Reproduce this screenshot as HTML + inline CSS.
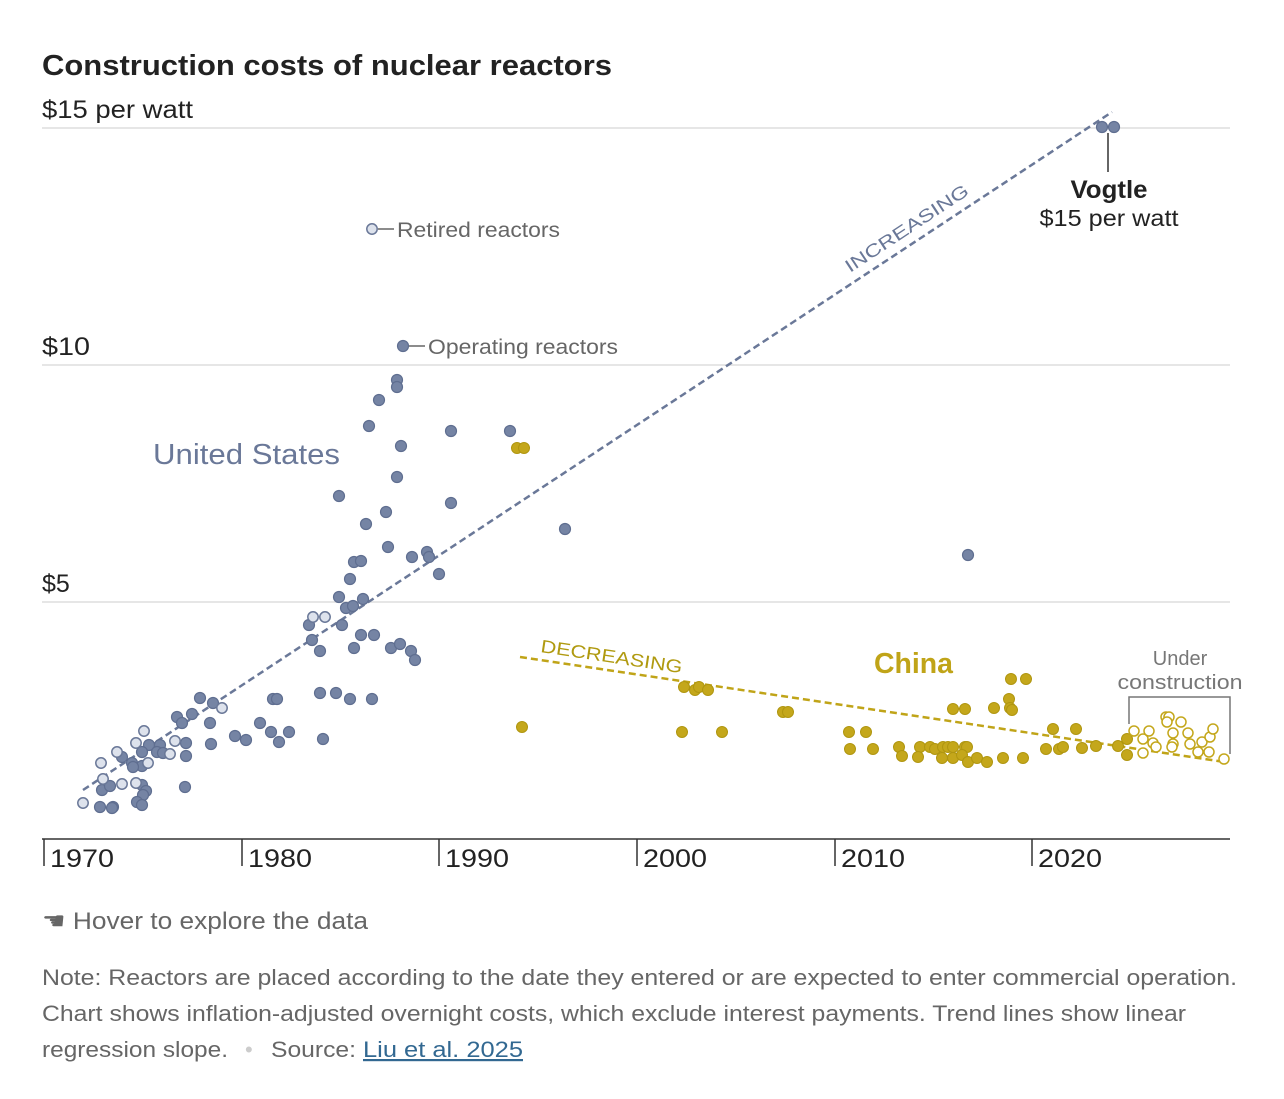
<!DOCTYPE html><html><head><style>body{margin:0;background:#fff;width:1284px;height:1094px;overflow:hidden;font-family:"Liberation Sans",sans-serif}</style></head><body>
<svg width="1284" height="1094" xmlns="http://www.w3.org/2000/svg" font-family="Liberation Sans, sans-serif">
<text x="42" y="75" font-size="29" font-weight="bold" fill="#222" textLength="570" lengthAdjust="spacingAndGlyphs">Construction costs of nuclear reactors</text>
<g stroke="#ddd" stroke-width="1.5"><line x1="42" y1="128" x2="1230" y2="128"/><line x1="42" y1="365" x2="1230" y2="365"/><line x1="42" y1="602" x2="1230" y2="602"/></g>
<line x1="42" y1="839" x2="1230" y2="839" stroke="#333" stroke-width="1.5"/>
<g font-size="25" fill="#222"><text x="42" y="118" textLength="151" lengthAdjust="spacingAndGlyphs">$15 per watt</text><text x="42" y="355" textLength="48" lengthAdjust="spacingAndGlyphs">$10</text><text x="42" y="592">$5</text></g>
<g stroke="#333" stroke-width="1.5"><line x1="44" y1="839" x2="44" y2="866"/><line x1="242" y1="839" x2="242" y2="866"/><line x1="439" y1="839" x2="439" y2="866"/><line x1="637" y1="839" x2="637" y2="866"/><line x1="835" y1="839" x2="835" y2="866"/><line x1="1032" y1="839" x2="1032" y2="866"/></g>
<g font-size="25" fill="#222"><text x="50" y="867" textLength="64" lengthAdjust="spacingAndGlyphs">1970</text><text x="248" y="867" textLength="64" lengthAdjust="spacingAndGlyphs">1980</text><text x="445" y="867" textLength="64" lengthAdjust="spacingAndGlyphs">1990</text><text x="643" y="867" textLength="64" lengthAdjust="spacingAndGlyphs">2000</text><text x="841" y="867" textLength="64" lengthAdjust="spacingAndGlyphs">2010</text><text x="1038" y="867" textLength="64" lengthAdjust="spacingAndGlyphs">2020</text></g>
<line x1="83" y1="790" x2="1112" y2="112" stroke="#6a7898" stroke-width="2.5" stroke-dasharray="7,4"/>
<line x1="520" y1="657" x2="1225" y2="762" stroke="#c0a418" stroke-width="2.5" stroke-dasharray="7,4"/>
<text transform="translate(850,273) rotate(-33.4)" font-size="18" fill="#6a7898" textLength="144" lengthAdjust="spacingAndGlyphs">INCREASING</text>
<text transform="translate(540,652) rotate(8.5)" font-size="18" fill="#b09a10" textLength="143" lengthAdjust="spacingAndGlyphs">DECREASING</text>
<g fill="#7584a4" stroke="#5f6e90" stroke-width="1.2">
<circle cx="1102" cy="127" r="5.5"/><circle cx="1114" cy="127" r="5.5"/>
<circle cx="397" cy="380" r="5.5"/><circle cx="397" cy="387" r="5.5"/><circle cx="379" cy="400" r="5.5"/><circle cx="369" cy="426" r="5.5"/><circle cx="451" cy="431" r="5.5"/><circle cx="510" cy="431" r="5.5"/><circle cx="401" cy="446" r="5.5"/><circle cx="397" cy="477" r="5.5"/><circle cx="339" cy="496" r="5.5"/><circle cx="451" cy="503" r="5.5"/><circle cx="386" cy="512" r="5.5"/><circle cx="366" cy="524" r="5.5"/><circle cx="565" cy="529" r="5.5"/><circle cx="388" cy="547" r="5.5"/><circle cx="412" cy="557" r="5.5"/><circle cx="427" cy="552" r="5.5"/><circle cx="429" cy="557" r="5.5"/><circle cx="354" cy="562" r="5.5"/><circle cx="361" cy="561" r="5.5"/><circle cx="350" cy="579" r="5.5"/><circle cx="439" cy="574" r="5.5"/><circle cx="968" cy="555" r="5.5"/>
<circle cx="339" cy="597" r="5.5"/><circle cx="363" cy="599" r="5.5"/><circle cx="346" cy="608" r="5.5"/><circle cx="353" cy="606" r="5.5"/><circle cx="309" cy="625" r="5.5"/><circle cx="342" cy="625" r="5.5"/><circle cx="312" cy="640" r="5.5"/><circle cx="361" cy="635" r="5.5"/><circle cx="374" cy="635" r="5.5"/><circle cx="320" cy="651" r="5.5"/><circle cx="354" cy="648" r="5.5"/><circle cx="391" cy="648" r="5.5"/><circle cx="400" cy="644" r="5.5"/><circle cx="411" cy="651" r="5.5"/><circle cx="415" cy="660" r="5.5"/>
<circle cx="320" cy="693" r="5.5"/><circle cx="336" cy="693" r="5.5"/><circle cx="350" cy="699" r="5.5"/><circle cx="372" cy="699" r="5.5"/><circle cx="273" cy="699" r="5.5"/><circle cx="277" cy="699" r="5.5"/><circle cx="323" cy="739" r="5.5"/><circle cx="260" cy="723" r="5.5"/><circle cx="271" cy="732" r="5.5"/><circle cx="289" cy="732" r="5.5"/><circle cx="279" cy="742" r="5.5"/><circle cx="235" cy="736" r="5.5"/><circle cx="246" cy="740" r="5.5"/><circle cx="200" cy="698" r="5.5"/><circle cx="213" cy="703" r="5.5"/><circle cx="210" cy="723" r="5.5"/><circle cx="211" cy="744" r="5.5"/><circle cx="177" cy="717" r="5.5"/><circle cx="192" cy="714" r="5.5"/><circle cx="182" cy="723" r="5.5"/><circle cx="185" cy="787" r="5.5"/><circle cx="186" cy="743" r="5.5"/><circle cx="186" cy="756" r="5.5"/><circle cx="149" cy="745" r="5.5"/><circle cx="160" cy="745" r="5.5"/><circle cx="157" cy="752" r="5.5"/><circle cx="163" cy="753" r="5.5"/><circle cx="142" cy="752" r="5.5"/><circle cx="122" cy="757" r="5.5"/><circle cx="132" cy="763" r="5.5"/><circle cx="142" cy="766" r="5.5"/><circle cx="133" cy="767" r="5.5"/><circle cx="102" cy="790" r="5.5"/><circle cx="110" cy="786" r="5.5"/><circle cx="142" cy="785" r="5.5"/><circle cx="146" cy="791" r="5.5"/><circle cx="143" cy="795" r="5.5"/><circle cx="137" cy="802" r="5.5"/><circle cx="142" cy="805" r="5.5"/><circle cx="100" cy="807" r="5.5"/><circle cx="113" cy="807" r="5.5"/><circle cx="112" cy="808" r="5.5"/>
<circle cx="403" cy="346" r="5.5"/>
</g>
<g fill="#dde2ec" stroke="#6a7898" stroke-width="1.5">
<circle cx="313" cy="617" r="5.2"/><circle cx="325" cy="617" r="5.2"/><circle cx="222" cy="708" r="5.2"/><circle cx="170" cy="754" r="5.2"/><circle cx="175" cy="741" r="5.2"/><circle cx="144" cy="731" r="5.2"/><circle cx="136" cy="743" r="5.2"/><circle cx="117" cy="752" r="5.2"/><circle cx="148" cy="763" r="5.2"/><circle cx="101" cy="763" r="5.2"/><circle cx="103" cy="779" r="5.2"/><circle cx="122" cy="784" r="5.2"/><circle cx="136" cy="783" r="5.2"/><circle cx="83" cy="803" r="5.2"/><circle cx="372" cy="229" r="5.2"/>
</g>
<g fill="#c4a71b" stroke="#b09610" stroke-width="1">
<circle cx="517" cy="448" r="5.5"/><circle cx="524" cy="448" r="5.5"/><circle cx="522" cy="727" r="5.5"/><circle cx="684" cy="687" r="5.5"/><circle cx="695" cy="690" r="5.5"/><circle cx="699" cy="687" r="5.5"/><circle cx="708" cy="690" r="5.5"/><circle cx="682" cy="732" r="5.5"/><circle cx="722" cy="732" r="5.5"/><circle cx="783" cy="712" r="5.5"/><circle cx="788" cy="712" r="5.5"/>
<circle cx="1011" cy="679" r="5.5"/><circle cx="1026" cy="679" r="5.5"/><circle cx="1009" cy="699" r="5.5"/><circle cx="1010" cy="708" r="5.5"/><circle cx="1012" cy="710" r="5.5"/><circle cx="994" cy="708" r="5.5"/><circle cx="953" cy="709" r="5.5"/><circle cx="965" cy="709" r="5.5"/><circle cx="849" cy="732" r="5.5"/><circle cx="866" cy="732" r="5.5"/><circle cx="850" cy="749" r="5.5"/><circle cx="873" cy="749" r="5.5"/><circle cx="899" cy="747" r="5.5"/><circle cx="902" cy="756" r="5.5"/><circle cx="920" cy="747" r="5.5"/><circle cx="918" cy="757" r="5.5"/><circle cx="930" cy="747" r="5.5"/><circle cx="935" cy="749" r="5.5"/><circle cx="943" cy="747" r="5.5"/><circle cx="948" cy="747" r="5.5"/><circle cx="953" cy="747" r="5.5"/><circle cx="965" cy="747" r="5.5"/><circle cx="967" cy="747" r="5.5"/><circle cx="942" cy="758" r="5.5"/><circle cx="953" cy="758" r="5.5"/><circle cx="962" cy="755" r="5.5"/><circle cx="968" cy="762" r="5.5"/><circle cx="977" cy="758" r="5.5"/><circle cx="987" cy="762" r="5.5"/><circle cx="1003" cy="758" r="5.5"/><circle cx="1023" cy="758" r="5.5"/><circle cx="1046" cy="749" r="5.5"/><circle cx="1053" cy="729" r="5.5"/><circle cx="1059" cy="749" r="5.5"/><circle cx="1063" cy="747" r="5.5"/><circle cx="1076" cy="729" r="5.5"/><circle cx="1082" cy="748" r="5.5"/><circle cx="1096" cy="746" r="5.5"/><circle cx="1118" cy="746" r="5.5"/><circle cx="1127" cy="739" r="5.5"/><circle cx="1127" cy="755" r="5.5"/>
</g>
<g fill="#fff" stroke="#c4a71b" stroke-width="1.5">
<circle cx="1134" cy="731" r="5"/><circle cx="1143" cy="739" r="5"/><circle cx="1149" cy="731" r="5"/><circle cx="1143" cy="753" r="5"/><circle cx="1153" cy="743" r="5"/><circle cx="1156" cy="747" r="5"/><circle cx="1166" cy="717" r="5"/><circle cx="1169" cy="717" r="5"/><circle cx="1167" cy="722" r="5"/><circle cx="1181" cy="722" r="5"/><circle cx="1173" cy="733" r="5"/><circle cx="1188" cy="733" r="5"/><circle cx="1173" cy="744" r="5"/><circle cx="1190" cy="744" r="5"/><circle cx="1172" cy="747" r="5"/><circle cx="1202" cy="742" r="5"/><circle cx="1210" cy="737" r="5"/><circle cx="1213" cy="729" r="5"/><circle cx="1198" cy="752" r="5"/><circle cx="1209" cy="752" r="5"/><circle cx="1224" cy="759" r="5"/>
</g>
<line x1="378" y1="229" x2="394" y2="229" stroke="#666" stroke-width="1.5"/>
<line x1="409" y1="346" x2="425" y2="346" stroke="#666" stroke-width="1.5"/>
<text x="397" y="237" font-size="21" fill="#666" textLength="163" lengthAdjust="spacingAndGlyphs">Retired reactors</text>
<text x="428" y="354" font-size="21" fill="#666" textLength="190" lengthAdjust="spacingAndGlyphs">Operating reactors</text>
<text x="153" y="464" font-size="29" fill="#6a7898" textLength="187" lengthAdjust="spacingAndGlyphs">United States</text>
<text x="874" y="673" font-size="29" font-weight="bold" fill="#c0a418" textLength="79" lengthAdjust="spacingAndGlyphs">China</text>
<line x1="1108" y1="133" x2="1108" y2="172" stroke="#333" stroke-width="1.5"/>
<text x="1109" y="198" font-size="25" font-weight="bold" fill="#222" text-anchor="middle" textLength="77" lengthAdjust="spacingAndGlyphs">Vogtle</text>
<text x="1109" y="226" font-size="23" fill="#222" text-anchor="middle" textLength="139" lengthAdjust="spacingAndGlyphs">$15 per watt</text>
<text x="1180" y="665" font-size="20" fill="#777" text-anchor="middle">Under</text>
<text x="1180" y="689" font-size="20" fill="#777" text-anchor="middle" textLength="125" lengthAdjust="spacingAndGlyphs">construction</text>
<polyline points="1129,724 1129,697 1230,697 1230,754" fill="none" stroke="#777" stroke-width="1.5"/>
<text x="42" y="929" font-size="24" fill="#666" textLength="326" lengthAdjust="spacingAndGlyphs">☚ Hover to explore the data</text>
<g font-size="22" fill="#666"><text x="42" y="985" textLength="1195" lengthAdjust="spacingAndGlyphs">Note: Reactors are placed according to the date they entered or are expected to enter commercial operation.</text><text x="42" y="1021" textLength="1144" lengthAdjust="spacingAndGlyphs">Chart shows inflation-adjusted overnight costs, which exclude interest payments. Trend lines show linear</text><text x="42" y="1057" textLength="186" lengthAdjust="spacingAndGlyphs">regression slope.</text><text x="245" y="1057" fill="#ccc">•</text><text x="271" y="1057" textLength="85" lengthAdjust="spacingAndGlyphs">Source:</text><text x="363" y="1057" fill="#326891" text-decoration="underline" textLength="160" lengthAdjust="spacingAndGlyphs">Liu et al. 2025</text></g>
</svg></body></html>
